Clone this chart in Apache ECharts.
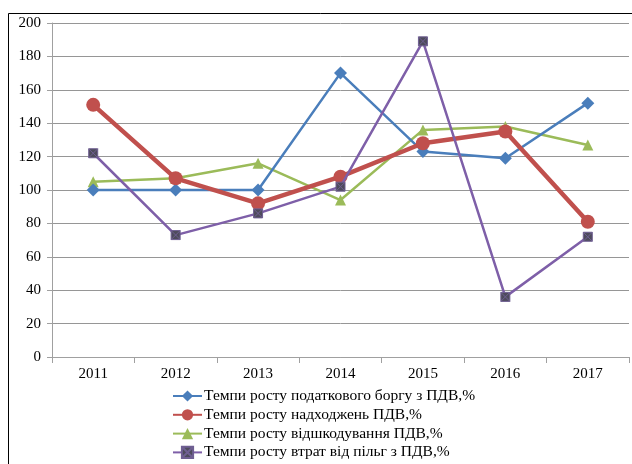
<!DOCTYPE html>
<html><head><meta charset="utf-8">
<script src="https://cdn.jsdelivr.net/npm/echarts@6/dist/echarts.min.js"></script>
<style>html,body{margin:0;padding:0;background:#fff}#c{width:632px;height:464px}</style>
</head><body><div id="c"></div>
<script>
const categories = ['2011','2012','2013','2014','2015','2016','2017'];
const yTicks = [0,20,40,60,80,100,120,140,160,180,200];
const seriesNames = [
  'Темпи росту податкового боргу з ПДВ,%',
  'Темпи росту надходжень ПДВ,%',
  'Темпи росту відшкодування ПДВ,%',
  'Темпи росту втрат від пільг з ПДВ,%'
];
const debt = [100, 100, 100, 170, 123, 119, 152];
const receipts = [151, 107, 92, 108, 128, 135, 81];
const refund = [105, 107, 116, 94, 136, 138, 127];
const losses = [122, 73, 86, 102, 189, 36, 72];

const font = 'Liberation Serif, Times New Roman, serif';
const chart = echarts.init(document.getElementById('c'));
chart.setOption({
  animation: false,
  textStyle: {fontFamily: font},
  grid: {left: 52, right: 3, top: 23, bottom: 107, containLabel: false},
  graphic: [
    {type: 'polyline', shape: {points: [[8.5, 464], [8.5, 13.5], [632, 13.5]]}, style: {stroke: '#000', lineWidth: 1, fill: null}}
  ],
  xAxis: {
    type: 'category', data: categories, boundaryGap: true,
    axisLine: {lineStyle: {color: '#a0a0a0'}},
    axisTick: {show: true, length: 6, lineStyle: {color: '#a0a0a0'}},
    axisLabel: {color: '#000', fontSize: 15, fontFamily: font, margin: 10}
  },
  yAxis: {
    type: 'value', min: yTicks[0], max: yTicks[yTicks.length-1], interval: 20,
    axisLine: {show: true, lineStyle: {color: '#a0a0a0'}},
    axisTick: {show: true, length: 5, lineStyle: {color: '#a0a0a0'}},
    splitLine: {lineStyle: {color: '#969696'}},
    axisLabel: {color: '#000', fontSize: 15, fontFamily: font, margin: 11}
  },
  legend: {
    orient: 'vertical', left: 172, top: 388, itemGap: 2.8, itemWidth: 29, itemHeight: 14,
    padding: 0, height: 100,
    textStyle: {color: '#000', fontSize: 15.5, fontFamily: font, padding: [0,0,0,-3]},
    data: seriesNames
  },
  series: [
    {name: seriesNames[0], type: 'line', data: debt, color: '#4A7EBB',
      lineStyle: {width: 2.5, color: '#4A7EBB'}, symbol: 'diamond', symbolSize: 13,
      itemStyle: {color: '#4A7EBB'}, z: 3},
    {name: seriesNames[1], type: 'line', data: receipts, color: '#C0504D',
      lineStyle: {width: 4.5, color: '#C0504D'}, symbol: 'circle', symbolSize: 14,
      itemStyle: {color: '#C0504D'}, z: 4},
    {name: seriesNames[2], type: 'line', data: refund, color: '#9BBB59',
      lineStyle: {width: 2.5, color: '#9BBB59'}, symbol: 'triangle', symbolSize: 11,
      itemStyle: {color: '#9BBB59'}, z: 2},
    {name: seriesNames[3], type: 'line', data: losses, color: '#7E5FA8',
      lineStyle: {width: 2.5, color: '#7E5FA8'},
      symbol: 'path://M0,0H10V10H0Z M0,0L10,10 M10,0L0,10', symbolSize: 9,
      itemStyle: {color: '#4e4b5c', borderColor: '#6f5f92', borderWidth: 1}, z: 5}
  ]
});
</script></body></html>
